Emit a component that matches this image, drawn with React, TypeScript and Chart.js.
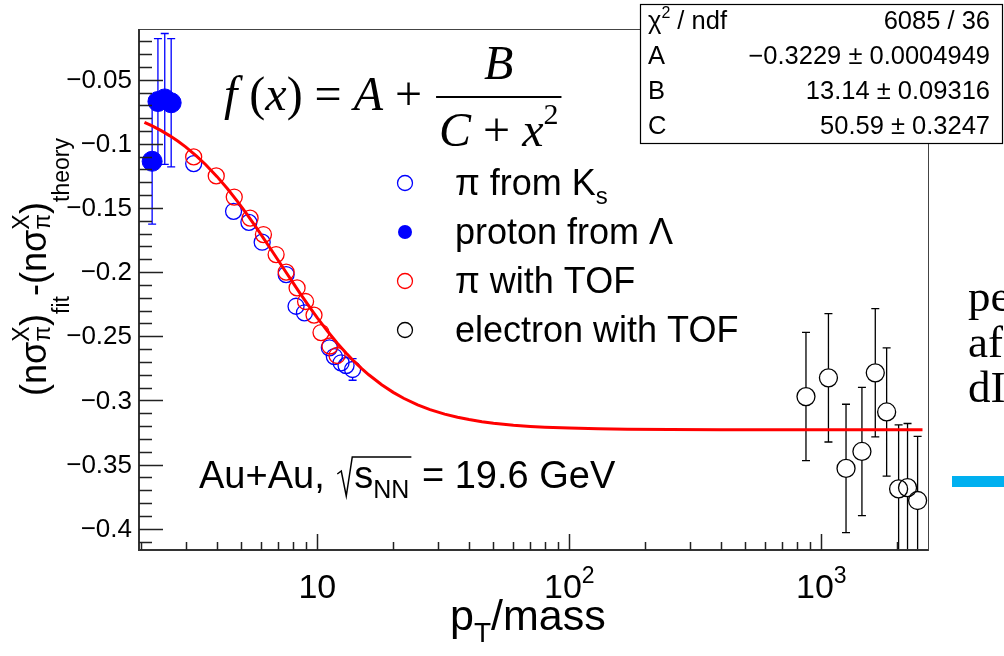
import React, { useEffect, useRef } from 'react';
import { Chart, registerables } from 'chart.js';

Chart.register(...registerables);

// ---- fit parameters (from the stats box) ----
const FIT_A = -0.3229;
const FIT_B = 13.14;
const FIT_C = 50.59;

// sample positions along x for drawing the fit curve
const fitX = [2.06, 2.2, 2.4, 2.6, 2.8, 3, 3.3, 3.6, 4, 4.4, 4.8, 5.2, 5.6, 6, 6.5, 7, 7.5, 8, 8.5, 9, 9.5, 10, 11, 12, 13, 14, 15, 16, 18, 20, 22, 25, 28, 32, 36, 40, 45, 50, 60, 70, 80, 100, 130, 170, 250, 400, 700, 1200, 2520];

// ---- data ----
const protonX = [2.21, 2.33, 2.48, 2.63];
const protonY = [-0.1136, -0.067, -0.065, -0.068];
const protonErr = [0.049, 0.049, 0.051, 0.05];

const ksPionX = [3.23, 4.65, 5.35, 6.04, 7.52, 8.23, 8.89, 11.16, 11.68, 12.42, 13.0, 13.8];
const ksPionY = [-0.1154, -0.1526, -0.1612, -0.1767, -0.2019, -0.2266, -0.2317, -0.259, -0.2658, -0.2707, -0.2728, -0.2759];
const ksPionErr = [0.004, 0.004, 0.004, 0.004, 0.004, 0.004, 0.004, 0.005, 0.005, 0.006, 0.006, 0.0084];

const tofPionX = [3.23, 3.97, 4.68, 5.41, 6.11, 6.86, 7.52, 8.31, 8.98, 9.7, 10.34, 11.22, 11.97];
const tofPionY = [-0.1102, -0.125, -0.1415, -0.1579, -0.1707, -0.1863, -0.2, -0.2123, -0.2229, -0.2335, -0.2471, -0.2576, -0.265];

const electronX = [869, 1067, 1253, 1449, 1637, 1816, 2026, 2198, 2410];
const electronY = [-0.297, -0.2824, -0.353, -0.3398, -0.2785, -0.309, -0.369, -0.368, -0.378];
const electronErr = [0.05, 0.05, 0.05, 0.05, 0.05, 0.05, 0.05, 0.05, 0.05];

// ---- axes ----
const X_MIN = 1.96;
const X_MAX = 2650;
const Y_MIN = -0.4166;
const Y_MAX = -0.0105;
const yMajorTicks = [-0.05, -0.1, -0.15, -0.2, -0.25, -0.3, -0.35, -0.4];
const yTickLabels = ['\u22120.05', '\u22120.1', '\u22120.15', '\u22120.2', '\u22120.25', '\u22120.3', '\u22120.35', '\u22120.4'];
const xMajorTicks = [10, 100, 1000];
const xTickExp = ['', '2', '3'];

// ---- text ----
const legendLabels = ['\u03c0 from K', 'proton from \u039b', '\u03c0 with TOF', 'electron with TOF'];
const statsRows = [
  ['', '6085 / 36'],
  ['A', '\u22120.3229 \u00b1 0.0004949'],
  ['B', '13.14 \u00b1 0.09316'],
  ['C', '50.59 \u00b1 0.3247'],
];

const SANS = '"Liberation Sans", Arial, Helvetica, sans-serif';
const SERIF = '"Liberation Serif", "Times New Roman", serif';

type Seg = {
  t?: string;
  size: number;
  dy?: number;
  it?: boolean;
  serif?: boolean;
  sup?: string;
  sub?: string;
  supDy?: number;
  subDy?: number;
};

function fontOf(s: Seg) {
  return `${s.it ? 'italic ' : ''}${s.size}px ${s.serif ? SERIF : SANS}`;
}

function richWidth(ctx: CanvasRenderingContext2D, segs: Seg[]) {
  let w = 0;
  for (const s of segs) {
    ctx.font = fontOf(s);
    if (s.t !== undefined) w += ctx.measureText(s.t).width;
    else w += Math.max(ctx.measureText(s.sup || '').width, ctx.measureText(s.sub || '').width);
  }
  return w;
}

function drawRich(ctx: CanvasRenderingContext2D, segs: Seg[], x: number, y: number) {
  let cx = x;
  for (const s of segs) {
    ctx.font = fontOf(s);
    if (s.t !== undefined) {
      ctx.fillText(s.t, cx, y + (s.dy || 0));
      cx += ctx.measureText(s.t).width;
    } else {
      const w1 = ctx.measureText(s.sup || '').width;
      const w2 = ctx.measureText(s.sub || '').width;
      ctx.fillText(s.sup || '', cx, y + (s.supDy || 0));
      ctx.fillText(s.sub || '', cx, y + (s.subDy || 0));
      cx += Math.max(w1, w2);
    }
  }
  return cx;
}

function drawErrors(
  chart: any,
  xs: number[],
  ys: number[],
  errs: number[],
  color: string,
  r: number,
  cap: number
) {
  const ctx: CanvasRenderingContext2D = chart.ctx;
  const xs_ = chart.scales.x;
  const ys_ = chart.scales.y;
  const area = chart.chartArea;
  ctx.save();
  ctx.beginPath();
  ctx.rect(area.left, area.top, area.right - area.left, area.bottom - area.top);
  ctx.clip();
  ctx.strokeStyle = color;
  ctx.lineWidth = 1.3;
  ctx.beginPath();
  for (let i = 0; i < xs.length; i++) {
    const px = xs_.getPixelForValue(xs[i]);
    const py = ys_.getPixelForValue(ys[i]);
    const top = ys_.getPixelForValue(ys[i] + errs[i]);
    const bot = ys_.getPixelForValue(ys[i] - errs[i]);
    if (py - r > top) {
      ctx.moveTo(px, py - r);
      ctx.lineTo(px, top);
      if (top > area.top) {
        ctx.moveTo(px - cap, top);
        ctx.lineTo(px + cap, top);
      }
    }
    if (py + r < bot) {
      ctx.moveTo(px, py + r);
      ctx.lineTo(px, bot);
      if (bot < area.bottom) {
        ctx.moveTo(px - cap, bot);
        ctx.lineTo(px + cap, bot);
      }
    }
  }
  ctx.stroke();
  ctx.restore();
}

const rootPlugin = {
  id: 'rootStyle',
  beforeDatasetsDraw(chart: any) {
    drawErrors(chart, protonX, protonY, protonErr, '#0000ff', 0, 4);
    drawErrors(chart, ksPionX, ksPionY, ksPionErr, '#0000ff', 8, 4);
    drawErrors(chart, electronX, electronY, electronErr, '#000000', 9, 4);
  },
  afterDraw(chart: any) {
    const ctx: CanvasRenderingContext2D = chart.ctx;
    const area = chart.chartArea;
    const sx = chart.scales.x;
    const sy = chart.scales.y;
    const L = area.left, R = area.right, T = area.top, B = area.bottom;

    ctx.save();
    // frame
    ctx.strokeStyle = '#444';
    ctx.lineWidth = 1;
    ctx.strokeRect(L + 0.5, T + 0.5, R - L, B - T);
    ctx.lineWidth = 2;
    ctx.strokeStyle = '#333';
    ctx.beginPath();
    ctx.moveTo(L, T);
    ctx.lineTo(L, B);
    ctx.lineTo(R, B);
    ctx.stroke();

    // y ticks
    ctx.strokeStyle = '#222';
    ctx.lineWidth = 1.5;
    ctx.beginPath();
    for (let k = -2; k >= -42; k--) {
      const v = k / 100;
      if (v > Y_MAX || v < Y_MIN) continue;
      const py = Math.round(sy.getPixelForValue(v)) + 0.5;
      const major = k % 5 === 0;
      ctx.moveTo(L, py);
      ctx.lineTo(L + (major ? 24 : 13), py);
    }
    ctx.stroke();
    // x ticks
    ctx.beginPath();
    for (let d = 0; d <= 3; d++) {
      for (let m = 1; m <= 9; m++) {
        const v = m * Math.pow(10, d);
        if (v < X_MIN || v > X_MAX) continue;
        const px = Math.round(sx.getPixelForValue(v)) + 0.5;
        ctx.moveTo(px, B);
        ctx.lineTo(px, B - (m === 1 ? 16 : 8));
      }
    }
    ctx.stroke();

    ctx.fillStyle = '#000';
    ctx.textBaseline = 'middle';
    ctx.textAlign = 'right';
    ctx.font = `26px ${SANS}`;
    yMajorTicks.forEach((v, i) => {
      ctx.fillText(yTickLabels[i], 132, sy.getPixelForValue(v) + 1);
    });

    ctx.textBaseline = 'alphabetic';
    ctx.textAlign = 'left';
    xMajorTicks.forEach((v, i) => {
      const segs: Seg[] = [{ t: '10', size: 34 }];
      if (xTickExp[i]) segs.push({ t: xTickExp[i], size: 23, dy: -15 });
      const w = richWidth(ctx, segs);
      const cx = sx.getPixelForValue(v);
      drawRich(ctx, segs, cx - w / 2, 598);
    });

    // x title
    drawRich(ctx, [
      { t: 'p', size: 43 },
      { t: 'T', size: 28, dy: 12 },
      { t: '/mass', size: 43 },
    ], 450, 630);

    // y title (rotated)
    const ySegs: Seg[] = [
      { t: '(n\u03c3', size: 36 },
      { sup: 'X', sub: '\u03c0', size: 23, supDy: -17, subDy: 4 },
      { t: ')', size: 36 },
      { t: 'fit', size: 23, dy: 23 },
      { t: '-', size: 36 },
      { t: '(n\u03c3', size: 36 },
      { sup: 'X', sub: '\u03c0', size: 23, supDy: -17, subDy: 4 },
      { t: ')', size: 36 },
      { t: 'theory', size: 23, dy: 23 },
    ];
    ctx.save();
    ctx.translate(46, 396);
    ctx.rotate(-Math.PI / 2);
    drawRich(ctx, ySegs, 0, 0);
    ctx.restore();

    // formula
    ctx.fillStyle = '#000';
    const fs = 48;
    const fx = drawRich(ctx, [
      { t: 'f', size: fs, it: true, serif: true },
      { t: ' (', size: fs, serif: true },
      { t: 'x', size: fs, it: true, serif: true },
      { t: ') = ', size: fs, serif: true },
      { t: 'A', size: fs, it: true, serif: true },
      { t: ' + ', size: fs, serif: true },
    ], 224, 110);
    const numSegs: Seg[] = [{ t: 'B', size: fs, it: true, serif: true }];
    const denSegs: Seg[] = [
      { t: 'C', size: fs, it: true, serif: true },
      { t: ' + ', size: fs, serif: true },
      { t: 'x', size: fs, it: true, serif: true },
      { t: '2', size: 30, serif: true, dy: -22 },
    ];
    const denW = richWidth(ctx, denSegs);
    const numW = richWidth(ctx, numSegs);
    const lineL = fx + 2;
    const lineR = lineL + denW + 6;
    ctx.strokeStyle = '#000';
    ctx.lineWidth = 2;
    ctx.beginPath();
    ctx.moveTo(lineL, 97);
    ctx.lineTo(lineR, 97);
    ctx.stroke();
    drawRich(ctx, numSegs, (lineL + lineR) / 2 - numW / 2, 79);
    drawRich(ctx, denSegs, lineL + 3, 146);

    // legend
    const legY = [183, 232, 281, 330];
    const legColors = ['#0000ff', '#0000ff', '#ff0000', '#000000'];
    legY.forEach((y, i) => {
      ctx.beginPath();
      ctx.arc(405, y, i === 1 ? 7 : 7.5, 0, Math.PI * 2);
      if (i === 1) {
        ctx.fillStyle = legColors[i];
        ctx.fill();
      } else {
        ctx.strokeStyle = legColors[i];
        ctx.lineWidth = 1.3;
        ctx.stroke();
      }
      ctx.fillStyle = '#000';
      const segs: Seg[] = [{ t: legendLabels[i], size: 36 }];
      if (i === 0) segs.push({ t: 's', size: 24, dy: 9 });
      drawRich(ctx, segs, 455, y + 12);
    });

    // Au+Au label
    ctx.fillStyle = '#000';
    const ax = drawRich(ctx, [{ t: 'Au+Au, ', size: 38 }], 199, 488);
    const sqrtStart = ax + 2;
    const sEnd = drawRich(ctx, [
      { t: 's', size: 38 },
      { t: 'NN', size: 25, dy: 10 },
    ], sqrtStart + 17, 488);
    ctx.strokeStyle = '#000';
    ctx.lineWidth = 1.5;
    ctx.beginPath();
    ctx.moveTo(sqrtStart, 474);
    ctx.lineTo(sqrtStart + 4, 471);
    ctx.lineTo(sqrtStart + 9, 496);
    ctx.lineTo(sqrtStart + 15, 457);
    ctx.lineTo(sEnd + 2, 457);
    ctx.stroke();
    drawRich(ctx, [{ t: ' = 19.6 GeV', size: 38 }], sEnd + 2, 488);

    // stats box
    ctx.fillStyle = '#fff';
    ctx.fillRect(640, 4, 363, 140);
    ctx.strokeStyle = '#000';
    ctx.lineWidth = 1.2;
    ctx.strokeRect(640.5, 4.5, 362, 139);
    ctx.fillStyle = '#000';
    const rowY = [21.5, 56.5, 91.5, 126.5];
    const sf = 25.5;
    rowY.forEach((y, i) => {
      ctx.textBaseline = 'middle';
      ctx.textAlign = 'left';
      if (i === 0) {
        drawRich(ctx, [
          { t: '\u03c7', size: sf },
          { t: '2', size: 16, dy: -8 },
          { t: ' / ndf', size: sf },
        ], 648, y);
      } else {
        ctx.font = `${sf}px ${SANS}`;
        ctx.fillText(statsRows[i][0], 648, y);
      }
      ctx.textAlign = 'right';
      ctx.font = `${sf}px ${SANS}`;
      ctx.fillText(statsRows[i][1], 990, y);
    });
    ctx.textAlign = 'left';
    ctx.textBaseline = 'alphabetic';

    // slide remnants at the right edge
    ctx.fillStyle = '#000';
    ctx.font = `45px ${SERIF}`;
    ctx.fillText('pe', 968, 311);
    ctx.fillText('af', 968, 357);
    ctx.fillText('dI', 968, 402);
    ctx.fillStyle = '#00b0f0';
    ctx.fillRect(952, 476, 52, 11);

    ctx.restore();
  },
};

export default function App() {
  const ref = useRef<HTMLCanvasElement | null>(null);
  useEffect(() => {
    if (!ref.current) return;
    const fitPts = fitX.map((x) => ({ x, y: FIT_A + FIT_B / (FIT_C + x * x) }));
    const toPts = (xs: number[], ys: number[]) => xs.map((x, i) => ({ x, y: ys[i] }));
    const chart = new Chart(ref.current, {
      type: 'scatter',
      data: {
        datasets: [
          {
            label: 'fit',
            data: fitPts,
            showLine: true,
            borderColor: '#ff0000',
            backgroundColor: '#ff0000',
            borderWidth: 3,
            pointRadius: 0,
            order: 0,
          },
          {
            label: legendLabels[2],
            data: toPts(tofPionX, tofPionY),
            pointStyle: 'circle',
            pointRadius: 8,
            borderColor: '#ff0000',
            backgroundColor: 'rgba(0,0,0,0)',
            borderWidth: 1.3,
            order: 1,
          },
          {
            label: legendLabels[0],
            data: toPts(ksPionX, ksPionY),
            pointStyle: 'circle',
            pointRadius: 8,
            borderColor: '#0000ff',
            backgroundColor: 'rgba(0,0,0,0)',
            borderWidth: 1.3,
            order: 2,
          },
          {
            label: legendLabels[1],
            data: toPts(protonX, protonY),
            pointStyle: 'circle',
            pointRadius: 10,
            borderColor: '#0000ff',
            backgroundColor: '#0000ff',
            borderWidth: 1,
            order: 3,
          },
          {
            label: legendLabels[3],
            data: toPts(electronX, electronY),
            pointStyle: 'circle',
            pointRadius: 9,
            borderColor: '#000000',
            backgroundColor: 'rgba(0,0,0,0)',
            borderWidth: 1.3,
            order: 4,
          },
        ],
      },
      options: {
        responsive: false,
        animation: false,
        layout: { padding: { left: 139, top: 29, right: 76, bottom: 106 } },
        scales: {
          x: { type: 'logarithmic', min: X_MIN, max: X_MAX, display: false },
          y: { type: 'linear', min: Y_MIN, max: Y_MAX, display: false },
        },
        plugins: { legend: { display: false }, tooltip: { enabled: false } },
      },
      plugins: [rootPlugin],
    } as any);
    return () => chart.destroy();
  }, []);
  return (
    <canvas
      ref={ref}
      width={1004}
      height={656}
      style={{ position: 'absolute', left: 0, top: 0, width: 1004, height: 656, background: '#fff' }}
    />
  );
}
